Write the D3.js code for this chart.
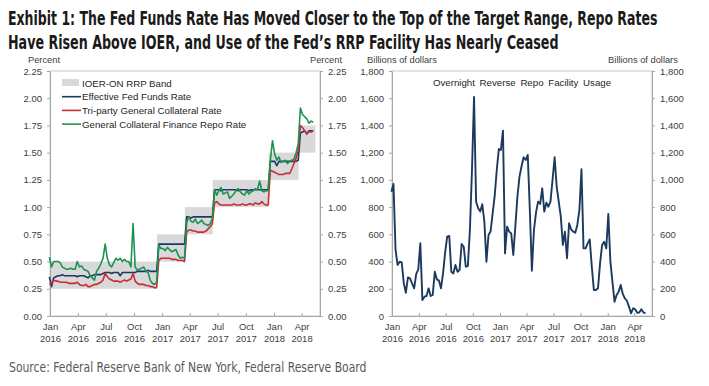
<!DOCTYPE html>
<html>
<head>
<meta charset="utf-8">
<script src="https://cdn.jsdelivr.net/npm/d3@7"></script>
<style>
    body { margin: 0; background: #fff; }
    svg { display: block; }
</style>
</head>
<body>
<svg id="chart" width="709" height="386"></svg>
<script>
// weekly readings, Wednesdays starting 2015-12-30
const weekStart = '2015-12-30'

const effr = [
    0.36, 0.27, 0.35, 0.36, 0.37, 0.37, 0.38, 0.37, 0.37, 0.37,
    0.37, 0.37, 0.37, 0.36, 0.37, 0.37, 0.37, 0.36, 0.35, 0.37,
    0.37, 0.38, 0.38, 0.38, 0.38, 0.39, 0.40, 0.40, 0.40, 0.39,
    0.40, 0.40, 0.40, 0.37, 0.40, 0.40, 0.40, 0.40, 0.40, 0.40,
    0.40, 0.41, 0.41, 0.41, 0.41, 0.41, 0.42, 0.41, 0.41, 0.41, 0.41,
    0.66, 0.66, 0.66, 0.66, 0.66, 0.66, 0.66, 0.66, 0.66, 0.66, 0.66, 0.66, 0.66,
    0.91, 0.91, 0.90, 0.91, 0.91, 0.91, 0.91, 0.91, 0.91, 0.91, 0.91, 0.91, 0.91,
    1.16, 1.16, 1.16, 1.15, 1.16, 1.16, 1.16, 1.16, 1.16, 1.16, 1.16, 1.15, 1.16,
    1.16, 1.16, 1.16, 1.15, 1.16, 1.16, 1.16, 1.16, 1.16, 1.16, 1.16, 1.16, 1.16,
    1.42, 1.42, 1.42, 1.38, 1.42, 1.42, 1.42, 1.42, 1.42, 1.42, 1.42, 1.42, 1.42, 1.43,
    1.68, 1.69, 1.70, 1.67, 1.70, 1.70, 1.70
]

const tgcr = [
    0.29, 0.30, 0.33, 0.32, 0.32, 0.31, 0.31, 0.31, 0.31, 0.30,
    0.30, 0.30, 0.30, 0.31, 0.29, 0.28, 0.28, 0.29, 0.27, 0.27,
    0.28, 0.29, 0.29, 0.30, 0.31, 0.33, 0.39, 0.36, 0.34, 0.33,
    0.32, 0.32, 0.32, 0.31, 0.32, 0.33, 0.32, 0.33, 0.34, 0.39,
    0.32, 0.30, 0.29, 0.29, 0.29, 0.28, 0.28, 0.27, 0.27, 0.26, 0.26,
    0.51, 0.53, 0.53, 0.53, 0.53, 0.53, 0.52, 0.52, 0.52, 0.51, 0.51, 0.51, 0.50,
    0.77, 0.79, 0.79, 0.78, 0.78, 0.77, 0.77, 0.77, 0.77, 0.78, 0.80, 0.82, 0.85,
    1.04, 1.05, 1.03, 1.02, 1.02, 1.02, 1.02, 1.02, 1.02, 1.03, 1.02, 1.02, 1.02,
    1.03, 1.02, 1.02, 1.03, 1.03, 1.02, 1.04, 1.03, 1.03, 1.05, 1.03, 1.02, 1.02,
    1.34, 1.33, 1.32, 1.31, 1.30, 1.30, 1.30, 1.31, 1.31, 1.31, 1.35, 1.40, 1.45, 1.52,
    1.75, 1.73, 1.70, 1.68, 1.69, 1.69, 1.70
]

const gcf = [
    0.54, 0.45, 0.50, 0.50, 0.50, 0.49, 0.45, 0.44, 0.43, 0.43,
    0.44, 0.43, 0.43, 0.50, 0.45, 0.46, 0.43, 0.42, 0.41, 0.37,
    0.35, 0.33, 0.41, 0.44, 0.48, 0.53, 0.66, 0.53, 0.47, 0.45,
    0.49, 0.53, 0.51, 0.53, 0.50, 0.52, 0.50, 0.50, 0.45, 0.85,
    0.45, 0.42, 0.43, 0.44, 0.45, 0.41, 0.40, 0.33, 0.30, 0.29, 0.31,
    0.65, 0.62, 0.62, 0.60, 0.63, 0.61, 0.59, 0.60, 0.61, 0.56, 0.53, 0.54, 0.53,
    0.86, 0.91, 0.87, 0.86, 0.89, 0.85, 0.86, 0.88, 0.85, 0.84, 0.83, 0.85, 0.90,
    1.16, 1.11, 1.15, 1.18, 1.12, 1.13, 1.14, 1.08, 1.10, 1.12, 1.15, 1.17, 1.14,
    1.12, 1.11, 1.15, 1.12, 1.14, 1.15, 1.17, 1.16, 1.24, 1.15, 1.14, 1.15, 1.15,
    1.43, 1.61, 1.49, 1.43, 1.46, 1.41, 1.42, 1.43, 1.40, 1.42, 1.43, 1.44, 1.50, 1.58,
    1.91, 1.85, 1.83, 1.81, 1.77, 1.79, 1.78
]

// overnight reverse repo usage, billions of dollars
const rrpUsage = [
    913, 970, 485, 375, 399, 393, 240, 171, 284, 277,
    240, 203, 308, 342, 534, 117, 142, 147, 203, 147,
    155, 325, 269, 260, 203, 313, 465, 583, 588, 325,
    313, 375, 325, 338, 529, 509, 363, 367, 632, 1073,
    1610, 840, 791, 767, 821, 693, 399, 595, 620, 754,
    882, 1073, 1227, 1220, 1362, 460, 656, 620, 607, 448,
    660, 877, 1024, 1100, 1166, 1146, 1183, 779, 333, 632,
    760, 840, 823, 938, 767, 833, 803, 840, 999, 1166,
    950, 840, 730, 522, 619, 424, 681, 637, 620, 612,
    669, 779, 1078, 497, 497, 534, 563, 363, 191, 191,
    203, 387, 522, 546, 497, 749, 399, 250, 105, 154,
    179, 228, 162, 130, 112, 68, 20, 57, 49, 24,
    26, 49, 26, 20
]

// IOER / ON RRP corridor
const bandStart = ['2016-01-01', '2016-12-15', '2017-03-16', '2017-06-15', '2017-12-14', '2018-03-22']
const bandEnd = '2018-05-16'
const bandFloor = [0.25, 0.50, 0.75, 1.00, 1.25, 1.50]
const bandCap = [0.50, 0.75, 1.00, 1.25, 1.50, 1.75]

const rateTicks = [0, 0.25, 0.5, 0.75, 1, 1.25, 1.5, 1.75, 2, 2.25]
const usageTicks = [0, 200, 400, 600, 800, 1000, 1200, 1400, 1600, 1800]
const quarterTicks = ['2016-01-01', '2016-04-01', '2016-07-01', '2016-10-01', '2017-01-01',
    '2017-04-01', '2017-07-01', '2017-10-01', '2018-01-01', '2018-04-01']
const axisDomain = ['2016-01-01', '2018-05-31']

const seriesNames = ['Effective Fed Funds Rate', 'Tri-party General Collateral Rate', 'General Collateral Finance Repo Rate']
const seriesColors = ['#1b3a63', '#cc2b36', '#1f9150']

const FONT = '"Liberation Sans", Arial, sans-serif'
const NARROW = '"Liberation Sans Narrow", "DejaVu Sans Condensed", "Arial Narrow", sans-serif'
const GRID = '#a6a6a6'
const INK = '#404040'

const parse = d3.utcParse('%Y-%m-%d')
const start = parse(weekStart)
const weeks = effr.map((_, i) => d3.utcDay.offset(start, 7 * i))

const svg = d3.select('#chart')

// squeeze a text horizontally so it spans the given width
const fitText = (x, y, width, txt, size, weight, color) => {
    const t = svg.append('text')
        .style('font-family', NARROW).style('font-weight', weight).style('font-size', size)
        .style('fill', color)
        .text(txt)
    const w = t.node().getComputedTextLength()
    t.attr('transform', `translate(${x},${y}) scale(${width / w},1)`)
    return t
}

fitText(8, 25, 650, 'Exhibit 1: The Fed Funds Rate Has Moved Closer to the Top of the Target Range, Repo Rates',
    '19px', 'bold', '#1a1a1a')
fitText(8, 49, 551, 'Have Risen Above IOER, and Use of the Fed\u2019s RRP Facility Has Nearly Ceased',
    '19px', 'bold', '#1a1a1a')
fitText(9, 372, 358, 'Source: Federal Reserve Bank of New York, Federal Reserve Board',
    '14px', 'normal', '#595959')

const unitLabel = (x, txt) => svg.append('text')
    .attr('x', x).attr('y', 63).attr('text-anchor', 'middle')
    .style('font-family', FONT).style('font-size', '9.3px').style('fill', INK)
    .text(txt)

unitLabel(44, 'Percent')
unitLabel(326, 'Percent')
unitLabel(402, 'Billions of dollars')
unitLabel(643, 'Billions of dollars')

const styleAxis = (g) => {
    g.attr('font-family', FONT).attr('font-size', 9.5)
    g.select('.domain').attr('stroke', GRID)
    g.selectAll('.tick line').attr('stroke', GRID)
    g.selectAll('.tick text').attr('fill', INK)
}

const drawFrame = (x, y, ticks, fmt) => {
    const [x0, x1] = x.range()
    const [yb, yt] = y.range()

    svg.append('rect')
        .attr('x', x0).attr('y', yt)
        .attr('width', x1 - x0).attr('height', yb - yt)
        .attr('fill', 'none').attr('stroke', '#c8c8c8')

    svg.append('g')
        .attr('transform', `translate(${x0},0)`)
        .call(d3.axisLeft(y).tickValues(ticks).tickSize(3).tickSizeOuter(0).tickPadding(5).tickFormat(fmt))
        .call(styleAxis)

    svg.append('g')
        .attr('transform', `translate(${x1},0)`)
        .call(d3.axisRight(y).tickValues(ticks).tickSize(3).tickSizeOuter(0).tickPadding(5).tickFormat(fmt))
        .call(styleAxis)

    const bottom = svg.append('g')
        .attr('transform', `translate(0,${yb})`)
        .call(d3.axisBottom(x).tickValues(quarterTicks.map(parse)).tickSize(-3).tickSizeOuter(0).tickFormat(''))
        .call(styleAxis)

    bottom.selectAll('.tick text')
        .attr('y', 0).attr('dy', null)
        .each((d, i, nodes) => {
            const t = d3.select(nodes[i])
            t.append('tspan').attr('x', 0).attr('y', 14).text(d3.utcFormat('%b')(d))
            t.append('tspan').attr('x', 0).attr('y', 26).text(d3.utcFormat('%Y')(d))
        })
}

// ---- left panel: rates
const xRate = d3.scaleUtc().domain(axisDomain.map(parse)).range([50, 320])
const yRate = d3.scaleLinear().domain([0, 2.25]).range([316, 71])

const bandRows = bandStart.map((d, i) => ({
    from: parse(d),
    to: parse(i < bandStart.length - 1 ? bandStart[i + 1] : bandEnd),
    lo: bandFloor[i],
    hi: bandCap[i]
}))

svg.append('g')
    .selectAll('rect')
    .data(bandRows)
    .join('rect')
    .attr('x', d => xRate(d.from))
    .attr('width', d => xRate(d.to) - xRate(d.from))
    .attr('y', d => yRate(d.hi))
    .attr('height', d => yRate(d.lo) - yRate(d.hi))
    .attr('fill', '#d9d9d9')

drawFrame(xRate, yRate, rateTicks, d3.format('.2f'))

const rateLine = d3.line()
    .x((d, i) => xRate(weeks[i]))
    .y(d => yRate(d))

svg.append('g')
    .selectAll('path')
    .data([effr, tgcr, gcf])
    .join('path')
    .attr('d', rateLine)
    .attr('fill', 'none')
    .attr('stroke', (d, i) => seriesColors[i])
    .attr('stroke-width', 1.6)
    .attr('stroke-linejoin', 'round')

// legend
const legend = svg.append('g')
    .style('font-family', FONT).style('font-size', '9.7px')

legend.append('rect')
    .attr('x', 62).attr('y', 79).attr('width', 17).attr('height', 7)
    .attr('fill', '#d9d9d9')
legend.append('text')
    .attr('x', 82).attr('y', 86.5).style('fill', '#262626')
    .text('IOER-ON RRP Band')

seriesNames.forEach((name, i) => {
    const y = 96.7 + i * 13.7
    legend.append('line')
        .attr('x1', 62).attr('x2', 81).attr('y1', y).attr('y2', y)
        .attr('stroke', seriesColors[i]).attr('stroke-width', 1.6)
    legend.append('text')
        .attr('x', 82).attr('y', y + 3.5).style('fill', '#262626')
        .text(name)
})

// ---- right panel: RRP usage
const xUse = d3.scaleUtc().domain(axisDomain.map(parse)).range([392, 652])
const yUse = d3.scaleLinear().domain([0, 1800]).range([316, 71])

drawFrame(xUse, yUse, usageTicks, d3.format(','))

svg.append('path')
    .datum(rrpUsage)
    .attr('d', d3.line().x((d, i) => xUse(weeks[i])).y(d => yUse(d)))
    .attr('fill', 'none')
    .attr('stroke', '#1c3a5e')
    .attr('stroke-width', 1.9)
    .attr('stroke-linejoin', 'round')

svg.append('text')
    .attr('x', 522).attr('y', 85.5).attr('text-anchor', 'middle')
    .style('font-family', FONT).style('font-size', '9.7px').style('fill', '#262626')
    .style('word-spacing', '2px')
    .text('Overnight Reverse Repo Facility Usage')
</script>
</body>
</html>
